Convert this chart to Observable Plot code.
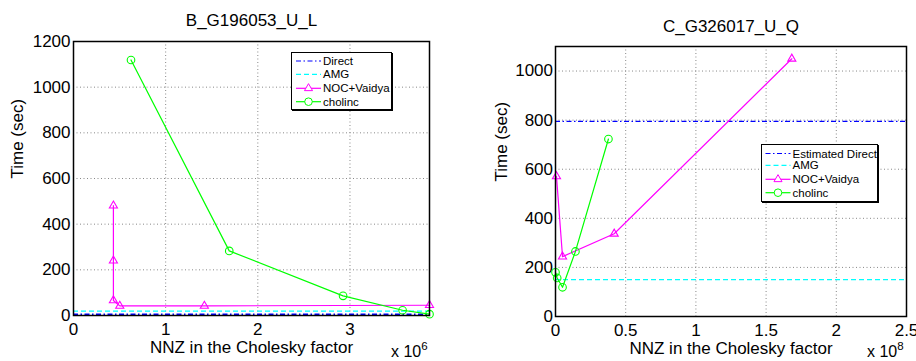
<!DOCTYPE html>
<html><head><meta charset="utf-8">
<script src="https://cdn.jsdelivr.net/npm/d3@7"></script>
<script src="https://cdn.jsdelivr.net/npm/@observablehq/plot@0.6"></script>
<style>
body{margin:0;background:#fff;font-family:"Liberation Sans",Arial,sans-serif;}
#wrap{position:relative;width:916px;height:361px;overflow:hidden;background:#fff;}
.panel{position:absolute;top:0;}
.legend{position:absolute;background:#fff;border:1.2px solid #000;box-shadow:1px 1px 0 #000;}
.legend svg{display:block;}
.exp{position:absolute;font-size:16px;line-height:16px;color:#000;white-space:nowrap;}
.exp sup{font-size:11.5px;line-height:11px;position:relative;top:-1px;}
</style></head>
<body><div id="wrap"></div>
<script>
// ---- Left panel: B_G196053_U_L ----
const leftTitle = "B_G196053_U_L";
const leftXTicks = [0, 1e6, 2e6, 3e6];
const leftXMax = 3.863e6;
const leftYTicks = [0, 200, 400, 600, 800, 1000, 1200];
const leftYMax = 1200;
const leftNocX = [0.433e6, 0.433e6, 0.433e6, 0.502e6, 1.42e6, 3.863e6];
const leftNocY = [481, 240, 66, 42, 42, 45];
const leftCholX = [0.624e6, 1.69e6, 2.925e6, 3.571e6, 3.863e6];
const leftCholY = [1119, 283, 86, 23, 6];
const leftDirect = 4;
const leftAMG = 19;
const leftLegend = ["Direct", "AMG", "NOC+Vaidya", "cholinc"];

// ---- Right panel: C_G326017_U_Q ----
const rightTitle = "C_G326017_U_Q";
const rightXTicks = [0, 0.5e8, 1e8, 1.5e8, 2e8, 2.5e8];
const rightXMax = 2.5e8;
const rightYTicks = [0, 200, 400, 600, 800, 1000];
const rightYMax = 1100;
const rightNocX = [0.007e8, 0.05e8, 0.418e8, 1.683e8];
const rightNocY = [571, 244, 337, 1050];
const rightCholX = [0.0, 0.012e8, 0.05e8, 0.142e8, 0.377e8];
const rightCholY = [180, 157, 119, 265, 723];
const rightDirect = 795;
const rightAMG = 150;
const rightLegend = ["Estimated Direct", "AMG", "NOC+Vaidya", "cholinc"];

const xLabel = "NNZ in the Cholesky factor";
const yLabel = "Time (sec)";

const GREEN = "#00ff00", MAGENTA = "#ff00ff", CYAN = "#00ffff", BLUE = "#0000ff";
const DASHDOT = "5,2.5,1.5,2.5", DASHED = "5,3";
const FONT = "Liberation Sans, Arial, sans-serif";
const FS = 17;

function panel(o) {
  const noc = o.nocX.map((x, i) => ({x, y: o.nocY[i]}));
  const chol = o.cholX.map((x, i) => ({x, y: o.cholY[i]}));
  return Plot.plot({
    width: 458, height: 361,
    marginLeft: o.mL, marginRight: o.mR, marginTop: o.mT, marginBottom: o.mB,
    style: {fontFamily: FONT, fontSize: FS + "px", color: "#000", background: "transparent", overflow: "visible"},
    x: {domain: [0, o.xMax], axis: null},
    y: {domain: [0, o.yMax], axis: null},
    marks: [
      Plot.gridX(o.xTicks.filter(d => d > 0 && d < o.xMax), {stroke: "#888", strokeOpacity: 1, strokeDasharray: "1,2.5"}),
      Plot.gridY(o.yTicks.filter(d => d > 0 && d < o.yMax), {stroke: "#888", strokeOpacity: 1, strokeDasharray: "1,2.5"}),
      Plot.axisX(o.xTicks, {tickSize: 0, tickPadding: 7, tickFormat: d => String(+(d / o.xScale).toFixed(2)), fontSize: FS, label: null}),
      Plot.axisY(o.yTicks, {tickSize: 0, tickPadding: o.yPad, tickFormat: d => String(d), fontSize: FS, label: null}),
      Plot.ruleY([o.amg], {stroke: CYAN, strokeWidth: 1.2, strokeDasharray: DASHED}),
      Plot.ruleY([o.direct], {stroke: BLUE, strokeWidth: o.directW, strokeDasharray: DASHDOT}),
      Plot.line(noc, {x: "x", y: "y", stroke: MAGENTA, strokeWidth: 1.2}),
      Plot.dot(noc, {x: "x", y: "y", symbol: "triangle", r: 3, stroke: MAGENTA, fill: "none", strokeWidth: 1.1}),
      Plot.line(chol, {x: "x", y: "y", stroke: GREEN, strokeWidth: 1.2}),
      Plot.dot(chol, {x: "x", y: "y", symbol: "circle", r: 3.8, stroke: GREEN, fill: "none", strokeWidth: 1.1}),
      Plot.frame({stroke: "#000", strokeWidth: 1.5}),
      Plot.text([o.title], {frameAnchor: "top", dy: o.titleDy, lineAnchor: "middle", fontSize: FS}),
      Plot.text([xLabel], {frameAnchor: "bottom", dy: 32, lineAnchor: "middle", fontSize: FS}),
      Plot.text([yLabel], {frameAnchor: "left", dx: o.yLabDx, rotate: -90, lineAnchor: "middle", fontSize: FS})
    ]
  });
}

function legend(labels, box, rows) {
  const ns = "http://www.w3.org/2000/svg";
  const div = document.createElement("div");
  div.className = "legend";
  Object.assign(div.style, {left: box.left + "px", top: box.top + "px", width: box.w + "px", height: box.h + "px"});
  const svg = document.createElementNS(ns, "svg");
  svg.setAttribute("width", box.w); svg.setAttribute("height", box.h);
  const styles = [
    {stroke: BLUE, dash: DASHDOT},
    {stroke: CYAN, dash: DASHED},
    {stroke: MAGENTA, dash: null, marker: "tri"},
    {stroke: GREEN, dash: null, marker: "circ"}
  ];
  labels.forEach((lab, i) => {
    const y = rows[i];
    const s = styles[i];
    const l = document.createElementNS(ns, "line");
    l.setAttribute("x1", box.x1); l.setAttribute("x2", box.x2);
    l.setAttribute("y1", y); l.setAttribute("y2", y);
    l.setAttribute("stroke", s.stroke); l.setAttribute("stroke-width", 1.2);
    if (s.dash) l.setAttribute("stroke-dasharray", s.dash);
    svg.appendChild(l);
    const cx = (box.x1 + box.x2) / 2;
    if (s.marker === "tri") {
      const p = document.createElementNS(ns, "path");
      p.setAttribute("d", d3.symbol(d3.symbolTriangle, Math.PI * 9)());
      p.setAttribute("transform", `translate(${cx},${y})`);
      p.setAttribute("fill", "#fff"); p.setAttribute("stroke", s.stroke);
      svg.appendChild(p);
    } else if (s.marker === "circ") {
      const c = document.createElementNS(ns, "circle");
      c.setAttribute("cx", cx); c.setAttribute("cy", y); c.setAttribute("r", 3.8);
      c.setAttribute("fill", "#fff"); c.setAttribute("stroke", s.stroke);
      svg.appendChild(c);
    }
    const t = document.createElementNS(ns, "text");
    t.setAttribute("x", box.x2 + 2); t.setAttribute("y", y);
    t.setAttribute("dy", "0.35em");
    t.setAttribute("font-size", "11.5px");
    t.setAttribute("font-family", FONT);
    t.textContent = lab;
    svg.appendChild(t);
  });
  div.appendChild(svg);
  return div;
}

const wrap = document.getElementById("wrap");

const left = panel({
  title: leftTitle, xTicks: leftXTicks, xMax: leftXMax, xScale: 1e6, yTicks: leftYTicks, yMax: leftYMax,
  nocX: leftNocX, nocY: leftNocY, cholX: leftCholX, cholY: leftCholY, direct: leftDirect, amg: leftAMG,
  mL: 73, mR: 29, mT: 41, mB: 46, yPad: 3, titleDy: -21, yLabDx: -56, directW: 2
});
left.classList.add("panel"); left.style.left = "0px";
wrap.appendChild(left);

const right = panel({
  title: rightTitle, xTicks: rightXTicks, xMax: rightXMax, xScale: 1e8, yTicks: rightYTicks, yMax: rightYMax,
  nocX: rightNocX, nocY: rightNocY, cholX: rightCholX, cholY: rightCholY, direct: rightDirect, amg: rightAMG,
  mL: 97, mR: 10, mT: 46, mB: 45, yPad: 2.5, titleDy: -20, yLabDx: -54, directW: 1.2
});
right.classList.add("panel"); right.style.left = "458px";
wrap.appendChild(right);

wrap.appendChild(legend(leftLegend, {left: 291, top: 52, w: 99, h: 56, x1: 4, x2: 29}, [8, 21.3, 35.3, 48.7]));
wrap.appendChild(legend(rightLegend, {left: 761, top: 144, w: 115, h: 56, x1: 3.5, x2: 28.5}, [8.5, 20.3, 34.3, 47.7]));

const e1 = document.createElement("div");
e1.className = "exp"; e1.innerHTML = "x 10<sup>6</sup>";
Object.assign(e1.style, {left: "391px", top: "342px"});
wrap.appendChild(e1);
const e2 = document.createElement("div");
e2.className = "exp"; e2.innerHTML = "x 10<sup>8</sup>";
Object.assign(e2.style, {left: "867px", top: "342px"});
wrap.appendChild(e2);
</script>
</body></html>
